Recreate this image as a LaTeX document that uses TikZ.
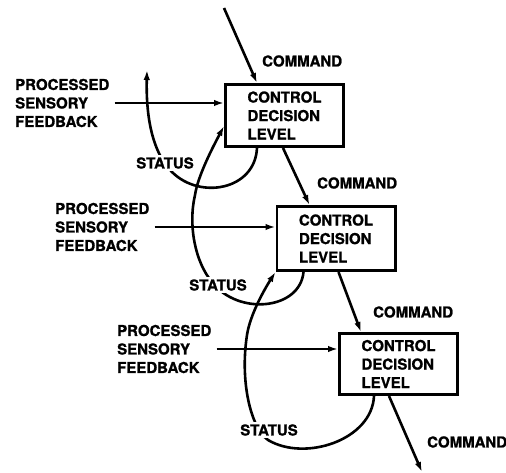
\documentclass[tikz,border=0pt]{standalone}
\usepackage{fontspec}
\setmainfont{TeX Gyre Heros}
\newfontfamily\heavyfont{TeX Gyre Heros Bold}[FakeBold=1.2]
\usetikzlibrary{arrows.meta,calc}
\begin{document}
\begin{tikzpicture}[x=1pt,y=-1pt,
  lbl/.style={font=\heavyfont\fontsize{15}{18.5}\selectfont, align=left, inner sep=0pt},
  boxnode/.style={draw, line width=2.8pt, minimum width=118.2pt, font=\heavyfont\fontsize{15}{18.5}\selectfont, align=left, inner sep=0pt},
  conn/.style={line width=2.6pt, -{Latex[length=10pt,width=6.5pt]}},
  curve/.style={line width=2.6pt},
  stat/.style={lbl, fill=white, inner sep=2pt}]
\useasboundingbox (0,0) rectangle (506,473);

% boxes
\node[boxnode, minimum height=62.2pt] (b1) at (284.5,115.5) {CONTROL\\DECISION\\LEVEL};
\node[boxnode, minimum height=64.2pt] (b2) at (336,238.5) {CONTROL\\DECISION\\LEVEL};
\node[boxnode, minimum height=61.2pt] (b3) at (398.5,364) {CONTROL\\DECISION\\LEVEL};

% sensory feedback labels
\node[lbl, anchor=west] (p1) at (15,103) {PROCESSED\\SENSORY\\FEEDBACK};
\node[lbl, anchor=west] (p2) at (55,227) {PROCESSED\\SENSORY\\FEEDBACK};
\node[lbl, anchor=west] (p3) at (117,349) {PROCESSED\\SENSORY\\FEEDBACK};

\draw[conn] ([xshift=5pt]p1.east) -- (p1.east -| b1.west);
\draw[conn] ([xshift=5pt]p2.east) -- (p2.east -| b2.west);
\draw[conn] ([xshift=5pt]p3.east) -- (p3.east -| b3.west);

% command labels
\node[lbl, anchor=west] (c1) at (262,61) {COMMAND};
\node[lbl, anchor=west] (c2) at (317,183) {COMMAND};
\node[lbl, anchor=west] (c3) at (373,312) {COMMAND};
\node[lbl, anchor=west] (c4) at (427,442) {COMMAND};

% command arrows
\coordinate (ctop) at (224,8);
\coordinate (cout) at (422,472);
\draw[conn] (ctop) -- ([xshift=33pt]b1.north west);
\draw[conn] ([xshift=59pt]b1.south west) -- ([xshift=34pt]b2.north west);
\draw[conn] ([xshift=63pt]b2.south west) -- ([xshift=23pt]b3.north west);
\draw[conn] ([xshift=51pt]b3.south west) -- (cout);

% status curves
\coordinate (s1end) at (147,70);
\draw[curve, -{Latex[length=10pt,width=6.5pt]}] ([xshift=33pt]b1.south west)
  .. controls (255,190) and (200,200) .. (172,172)
  .. controls (150,150) and (146,110) .. (s1end);
\draw[curve, -{Latex[length=10pt,width=6.5pt]}] ([xshift=28pt]b2.south west)
  .. controls (300,310) and (238,316) .. (212,282)
  .. controls (195,262) and (188,225) .. (195,195)
  .. controls (198,175) and (214,145) .. ([yshift=22pt]b1.south west);
\draw[curve, -{Latex[length=10pt,width=6.5pt]}] ([xshift=36pt]b3.south west)
  .. controls (372,440) and (305,462) .. (268,440)
  .. controls (250,427) and (240,380) .. (247,335)
  .. controls (250,315) and (264,290) .. (b2.south west);

% status labels
\node[stat] (st1) at (165,163) {STATUS};
\node[stat] (st2) at (218,285) {STATUS};
\node[stat] (st3) at (269,430) {STATUS};
\end{tikzpicture}
\end{document}
